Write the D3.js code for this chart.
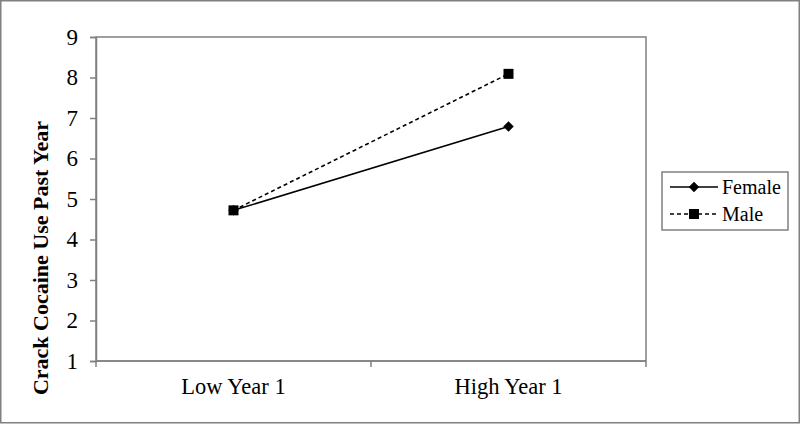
<!DOCTYPE html>
<html>
<head>
<meta charset="utf-8">
<script src="https://cdn.jsdelivr.net/npm/d3@7"></script>
<style>
  body { margin: 0; background: #fff; }
  svg text { font-family: "Liberation Serif", "Times New Roman", serif; fill: #000; }
</style>
</head>
<body>
<svg width="800" height="424"></svg>
<script>
var categories = ["Low Year 1", "High Year 1"];
var female = [4.72, 6.79];
var male = [4.72, 8.09];
var yTicks = [1, 2, 3, 4, 5, 6, 7, 8, 9];
var seriesNames = ["Female", "Male"];

var svg = d3.select("svg"),
    width = +svg.attr("width"),
    height = +svg.attr("height");

var margin = {left: 96, top: 37, right: 154, bottom: 63};
var plotW = width - margin.left - margin.right,
    plotH = height - margin.top - margin.bottom;

// outer frame
svg.append("rect")
  .attr("x", 0.75).attr("y", 0.75)
  .attr("width", width - 1.5).attr("height", height - 2)
  .attr("fill", "#fff")
  .attr("stroke", "#808080")
  .attr("stroke-width", 1.5);

var x = d3.scaleBand().domain(categories).range([0, plotW]);
var y = d3.scaleLinear().domain([1, 9]).range([plotH, 0]);

var g = svg.append("g").attr("transform", "translate(" + margin.left + "," + margin.top + ")");

// plot border (top/right)
g.append("rect")
  .attr("width", plotW).attr("height", plotH)
  .attr("fill", "none")
  .attr("stroke", "#808080")
  .attr("stroke-width", 1.5);

var yAxis = g.append("g")
  .call(d3.axisLeft(y).tickValues(yTicks).tickSize(6).tickPadding(12).tickFormat(d3.format("d")));
yAxis.select(".domain").attr("stroke", "#808080").attr("stroke-width", 1.5);
yAxis.selectAll(".tick line").attr("stroke", "#808080").attr("stroke-width", 1.5);
yAxis.selectAll("text").style("font-size", "23px").attr("fill", "#000").attr("font-family", null);

// x axis: ticks at band edges
var xAxis = g.append("g").attr("transform", "translate(0," + plotH + ")");
xAxis.append("line")
  .attr("x1", 0).attr("x2", plotW)
  .attr("stroke", "#808080").attr("stroke-width", 1.5);
var edges = [0].concat(categories.map(function(c) { return x(c) + x.bandwidth(); }));
xAxis.selectAll(".xtick")
  .data(edges)
  .enter().append("line")
  .attr("x1", function(d) { return d; })
  .attr("x2", function(d) { return d; })
  .attr("y1", 0).attr("y2", 6)
  .attr("stroke", "#808080").attr("stroke-width", 1.5);
xAxis.selectAll(".xlabel")
  .data(categories)
  .enter().append("text")
  .attr("x", function(d) { return x(d) + x.bandwidth() / 2; })
  .attr("y", 33)
  .attr("text-anchor", "middle")
  .style("font-size", "22.5px")
  .text(function(d) { return d; });

// y label
svg.append("text")
  .attr("transform", "translate(48,258) rotate(-90)")
  .attr("text-anchor", "middle")
  .style("font-size", "22px")
  .style("font-weight", "bold")
  .text("Crack Cocaine Use Past Year");

var line = d3.line()
  .x(function(d, i) { return x(categories[i]) + x.bandwidth() / 2; })
  .y(function(d) { return y(d); });

g.append("path")
  .datum(female)
  .attr("d", line)
  .attr("fill", "none")
  .attr("stroke", "#000")
  .attr("stroke-width", 1.6);

g.append("path")
  .datum(male)
  .attr("d", line)
  .attr("fill", "none")
  .attr("stroke", "#000")
  .attr("stroke-width", 1.6)
  .attr("stroke-dasharray", "4,3");

var diamond = d3.symbol().type(d3.symbolDiamond2).size(70);
var square = d3.symbol().type(d3.symbolSquare).size(100);

g.selectAll(".fpt")
  .data(female)
  .enter().append("path")
  .attr("d", diamond)
  .attr("transform", function(d, i) { return "translate(" + (x(categories[i]) + x.bandwidth() / 2) + "," + y(d) + ")"; })
  .attr("fill", "#000");

g.selectAll(".mpt")
  .data(male)
  .enter().append("path")
  .attr("d", square)
  .attr("transform", function(d, i) { return "translate(" + (x(categories[i]) + x.bandwidth() / 2) + "," + y(d) + ")"; })
  .attr("fill", "#000");

// legend
var legend = svg.append("g").attr("transform", "translate(662,172)");
legend.append("rect")
  .attr("width", 126).attr("height", 58)
  .attr("fill", "#fff")
  .attr("stroke", "#808080")
  .attr("stroke-width", 1.5);

var items = legend.selectAll(".item")
  .data(seriesNames)
  .enter().append("g")
  .attr("transform", function(d, i) { return "translate(0," + (15 + i * 27) + ")"; });

items.append("line")
  .attr("x1", 8).attr("x2", 56)
  .attr("stroke", "#000")
  .attr("stroke-width", 1.6)
  .attr("stroke-dasharray", function(d, i) { return i ? "4,3" : null; });

items.append("path")
  .attr("d", function(d, i) { return i ? square() : diamond(); })
  .attr("transform", "translate(32,0)")
  .attr("fill", "#000");

items.append("text")
  .attr("x", 60)
  .attr("y", 7)
  .style("font-size", "20px")
  .text(function(d) { return d; });
</script>
</body>
</html>
